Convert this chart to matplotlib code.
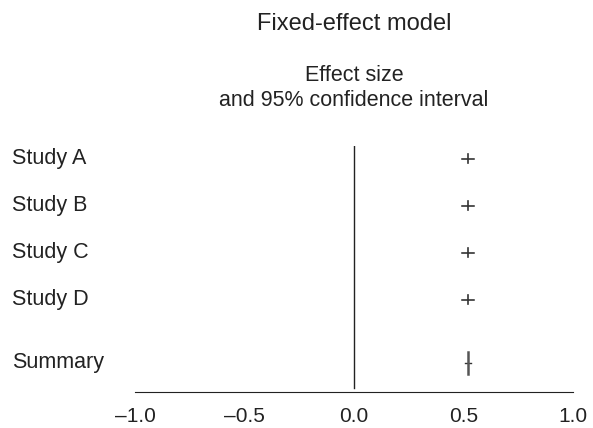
import numpy as np
import matplotlib.pyplot as plt

plt.rcParams['font.family'] = ['Liberation Sans', 'DejaVu Sans']

# ------------------------------------------------------------
# Forest plot data (fixed-effect model)
# ------------------------------------------------------------

labels = ["Study A", "Study B", "Study C", "Study D", "Summary"]
effect = [0.52, 0.52, 0.52, 0.52, 0.52]
ci_low = [0.493, 0.493, 0.493, 0.493, 0.506]
ci_high = [0.547, 0.547, 0.547, 0.547, 0.534]
rows = [5.0, 4.0, 3.0, 2.0, 0.65]
tick_vals = [-1.0, -0.5, 0.0, 0.5, 1.0]
tick_text = ["\u20131.0", "\u20130.5", "0.0", "0.5", "1.0"]

fig = plt.figure(figsize=(5.93, 4.28), dpi=100)
ax = fig.add_axes([135 / 593, 36 / 428, 438 / 593, 246 / 428])

ax.set_xlim(-1.0, 1.0)
ax.set_ylim(0.032, 5.266)

# Null line
ax.plot([0, 0], [0.117, 5.266], color="#222222", lw=1.0)

for lab, y, e, lo, hi in zip(labels, rows, effect, ci_low, ci_high):
    if lab == "Summary":
        ax.plot([lo, hi], [y, y], color="#333333", lw=1.0)
        ax.plot([e, e], [y - 0.23, y + 0.23], color="#555555", lw=1.8)
    else:
        ax.plot([lo, hi], [y, y], color="#222222", lw=1.1)
        ax.plot([e, e], [y - 0.096, y + 0.096], color="#333333", lw=1.2)
    ty = ax.transData.transform((0, y))[1] / fig.bbox.height
    fig.text(12 / 593, ty, lab, ha="left", va="center", fontsize=15.5, color="#222222")

for s in ["top", "right", "left"]:
    ax.spines[s].set_visible(False)
ax.spines["bottom"].set_color("#222222")
ax.set_yticks([])
ax.set_xticks(tick_vals)
ax.set_xticklabels(tick_text, fontsize=15, color="#222222")
ax.tick_params(axis="x", length=0, pad=11)

fig.text(354 / 593, 1 - 24 / 428, "Fixed-effect model", ha="center", va="center",
         fontsize=17, color="#222222")
fig.text(354 / 593, 1 - 88 / 428, "Effect size\nand 95% confidence interval",
         ha="center", va="center", fontsize=15.5, color="#222222", linespacing=1.2)

fig.savefig("out.png", dpi=100)
